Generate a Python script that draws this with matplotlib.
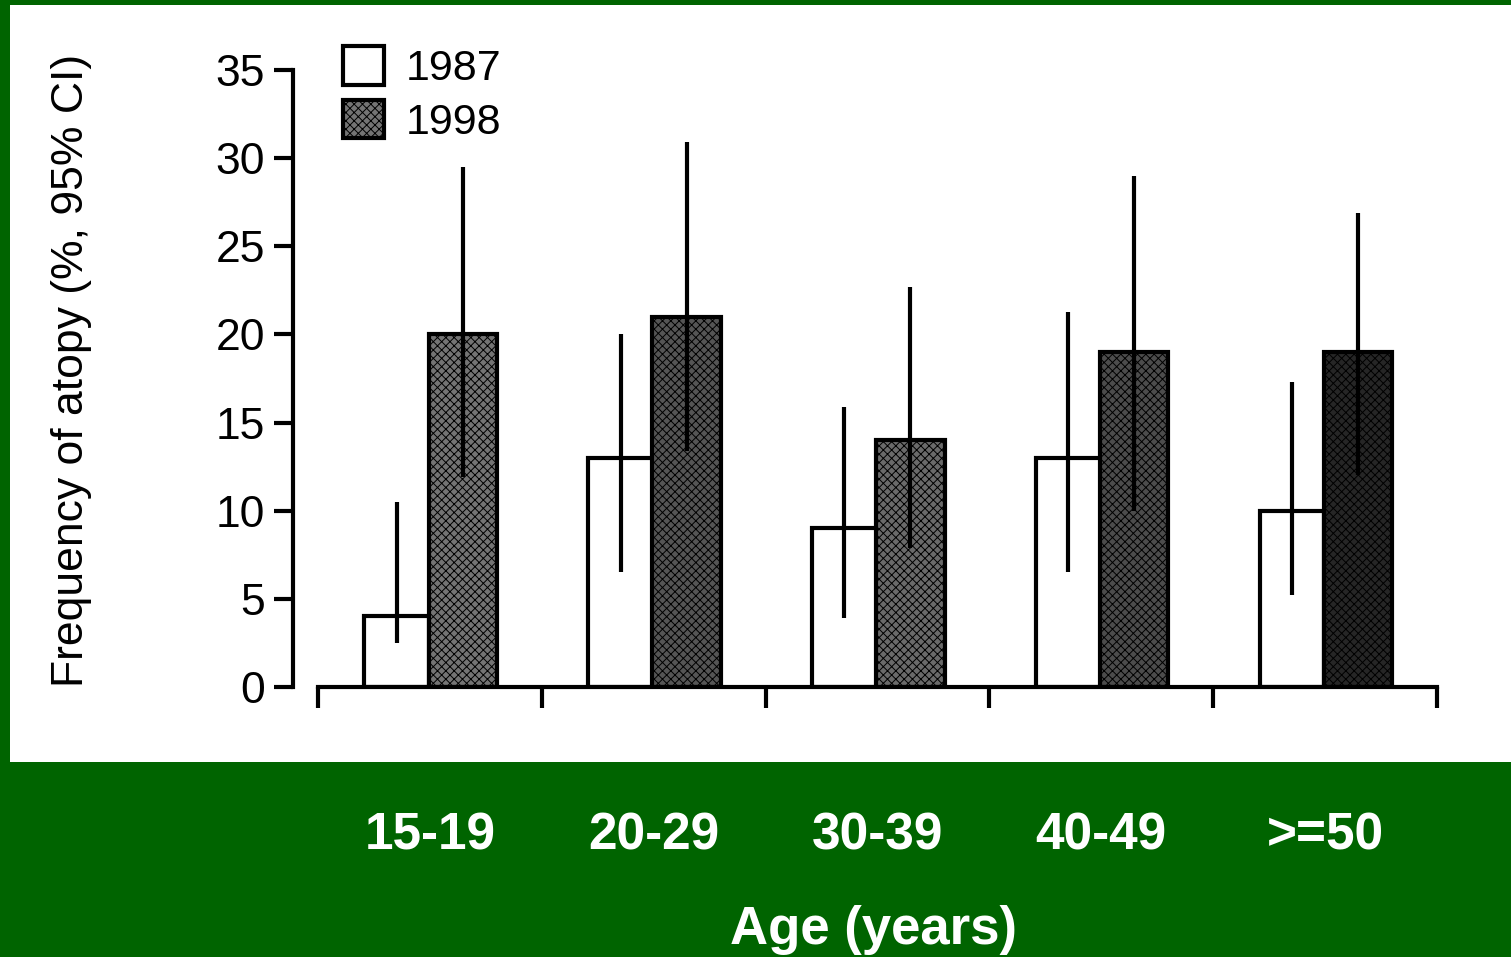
import numpy as np
import matplotlib
matplotlib.use('Agg')
import matplotlib.pyplot as plt
from matplotlib.patches import Rectangle

# ---- data ----
age_groups = ['15-19', '20-29', '30-39', '40-49', '>=50']
freq_1987 = [4, 13, 9, 13, 10]
ci_low_1987 = [2.5, 6.5, 3.9, 6.5, 5.2]
ci_high_1987 = [10.5, 20.0, 15.9, 21.3, 17.3]
freq_1998 = [20, 21, 14, 19, 19]
ci_low_1998 = [11.9, 13.4, 7.9, 10.0, 12.0]
ci_high_1998 = [29.5, 30.9, 22.7, 29.0, 26.9]
y_ticks = [0, 5, 10, 15, 20, 25, 30, 35]

# ---- style ----
GREEN = '#006400'
dark_shades = ['#747474', '#555555', '#6a6a6a', '#4c4c4c', '#262626']
LW = 3.0
plt.rcParams['font.family'] = ['Liberation Sans', 'DejaVu Sans']
plt.rcParams['hatch.linewidth'] = 0.7
plt.rcParams['hatch.color'] = 'black'

W, H = 1511, 957
fig = plt.figure(figsize=(W / 100, H / 100), dpi=100, facecolor=GREEN)

# white panel behind the scanned chart
fig.patches.append(Rectangle((10 / W, 1 - 762 / H), 1 - 10 / W, (762 - 5) / H,
                             transform=fig.transFigure, facecolor='white',
                             edgecolor='none', zorder=-10))

ax = fig.add_axes([293 / W, 1 - 687 / H, (1437 - 293) / W, (687 - 70) / H])
ax.patch.set_alpha(0)

n = len(age_groups)
centers = np.arange(n) + 0.5
x87 = centers - 0.148
x98 = centers + 0.147

ax.bar(x87, freq_1987, width=0.29, color='white', edgecolor='black',
       linewidth=LW, label='1987', zorder=2)
ax.bar(x98, freq_1998, width=0.305, color=dark_shades, edgecolor='black',
       linewidth=LW, hatch='xxxx', label='1998', zorder=2)

# 95% CI drawn as plain vertical lines (no caps)
ax.vlines(x87, ci_low_1987, ci_high_1987, color='black', linewidth=LW, zorder=3)
ax.vlines(x98, ci_low_1998, ci_high_1998, color='black', linewidth=LW, zorder=3)

ax.set_xlim(-25 / 223.8, n)
ax.set_ylim(0, 35)

for s in ['top', 'right']:
    ax.spines[s].set_visible(False)
ax.spines['left'].set_linewidth(LW)
ax.spines['bottom'].set_linewidth(LW)
ax.spines['left'].set_bounds(0, 35)
ax.spines['bottom'].set_bounds(0, n)

ax.set_yticks(y_ticks)
ax.tick_params(axis='y', direction='out', length=14, width=LW, pad=6,
               labelsize=32, labelcolor='black')

# group boundaries as major ticks, category names as minor tick labels
ax.set_xticks(np.arange(n + 1))
ax.set_xticklabels([])
ax.tick_params(axis='x', which='major', direction='out', length=15, width=LW)
ax.set_xticks(centers, minor=True)
ax.set_xticklabels(age_groups, minor=True, fontsize=37, fontweight='bold',
                   color='white')
ax.tick_params(axis='x', which='minor', length=0, pad=90)

fig.text(873 / W, 1 - 930 / H, 'Age (years)', color='white', fontsize=38,
         fontweight='bold', ha='center', va='center')
fig.text(72 / W, 1 - 370 / H, 'Frequency of atopy (%, 95% CI)', color='black',
         fontsize=32, rotation=90, ha='center', va='center')

ax.legend(loc='upper left', bbox_to_anchor=(343 / W, 1 - 46 / H),
          bbox_transform=fig.transFigure, frameon=False, fontsize=31,
          handlelength=0.95, handleheight=1.0, handletextpad=0.5,
          labelspacing=0.25, borderpad=0, borderaxespad=0)

fig.savefig('out.png', dpi=100, facecolor=GREEN)
